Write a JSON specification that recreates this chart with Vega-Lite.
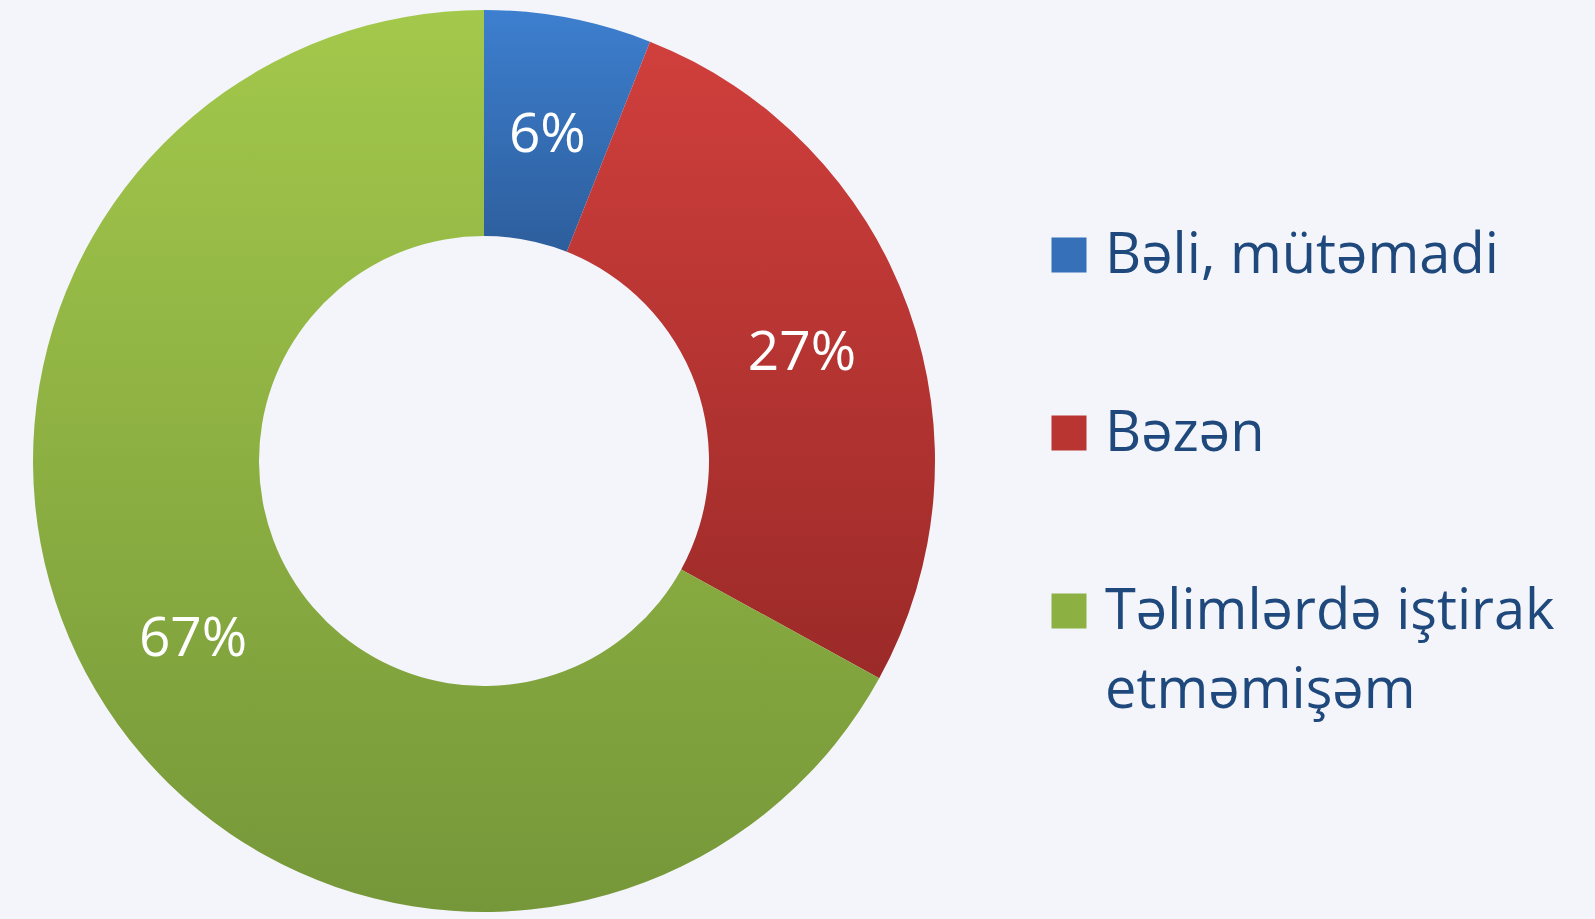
{
  "$schema": "https://vega.github.io/schema/vega-lite/v6.json",
  "width": 968,
  "height": 922,
  "autosize": {"type": "none"},
  "padding": {"left": 0, "top": 0, "right": 627, "bottom": 0},
  "background": "#f4f5fa",
  "view": {"stroke": null},
  "config": {
    "font": "Open Sans",
    "style": {"guide-label": {"dy": 18, "lineHeight": 79}}
  },
  "data": {
    "values": [
      {"cat": "Bəli, mütəmadi", "pct": 6, "label": "6%", "order": 1},
      {"cat": "Bəzən", "pct": 27, "label": "27%", "order": 2},
      {"cat": "Təlimlərdə iştirak etməmişəm", "pct": 67, "label": "67%", "order": 3}
    ]
  },
  "encoding": {
    "theta": {"field": "pct", "type": "quantitative", "stack": true},
    "order": {"field": "order", "type": "quantitative"}
  },
  "layer": [
    {
      "mark": {"type": "arc", "outerRadius": 451, "innerRadius": 225, "stroke": null},
      "encoding": {
        "color": {
          "field": "cat",
          "type": "nominal",
          "sort": ["Bəli, mütəmadi", "Bəzən", "Təlimlərdə iştirak etməmişəm"],
          "condition": [
            {"test": "datum.order == 1", "value": {"gradient": "linear", "x1": 0, "y1": 0, "x2": 0, "y2": 1, "stops": [{"offset": 0, "color": "#3d7fcf"}, {"offset": 1, "color": "#2d5e9c"}]}},
            {"test": "datum.order == 2", "value": {"gradient": "linear", "x1": 0, "y1": 0, "x2": 0, "y2": 1, "stops": [{"offset": 0, "color": "#d03f3c"}, {"offset": 1, "color": "#9b2a28"}]}},
            {"test": "datum.order == 3", "value": {"gradient": "linear", "x1": 0, "y1": 0, "x2": 0, "y2": 1, "stops": [{"offset": 0, "color": "#a3c84b"}, {"offset": 1, "color": "#769739"}]}}
          ],
          "scale": {
            "domain": ["Bəli, mütəmadi", "Bəzən", "Təlimlərdə iştirak etməmişəm"],
            "range": ["#3570b8", "#b83532", "#8cb042"]
          },
          "legend": {
            "orient": "none",
            "legendX": 1041,
            "legendY": 227,
            "title": null,
            "padding": 0,
            "symbolType": "square",
            "symbolSize": 1225,
            "symbolStrokeWidth": 0,
            "symbolOpacity": 1,
            "labelFont": "Open Sans",
            "labelFontSize": 56,
            "labelColor": "#1f497d",
            "labelOffset": 8,
            "labelLimit": 700,
            "rowPadding": 121,
            "labelBaseline": "alphabetic",
            "labelExpr": "datum.label == 'Təlimlərdə iştirak etməmişəm' ? ['Təlimlərdə iştirak', 'etməmişəm'] : datum.label",
            "encode": {"labels": {"dy": {"value": 18}, "lineHeight": {"value": 79}}}
          }
        }
      }
    },
    {
      "mark": {"type": "text", "radius": 338, "fontSize": 55, "font": "Open Sans", "fill": "white", "dy": 6},
      "encoding": {
        "detail": {"field": "cat", "type": "nominal"},
        "text": {"field": "label", "type": "nominal"}
      }
    }
  ]
}
